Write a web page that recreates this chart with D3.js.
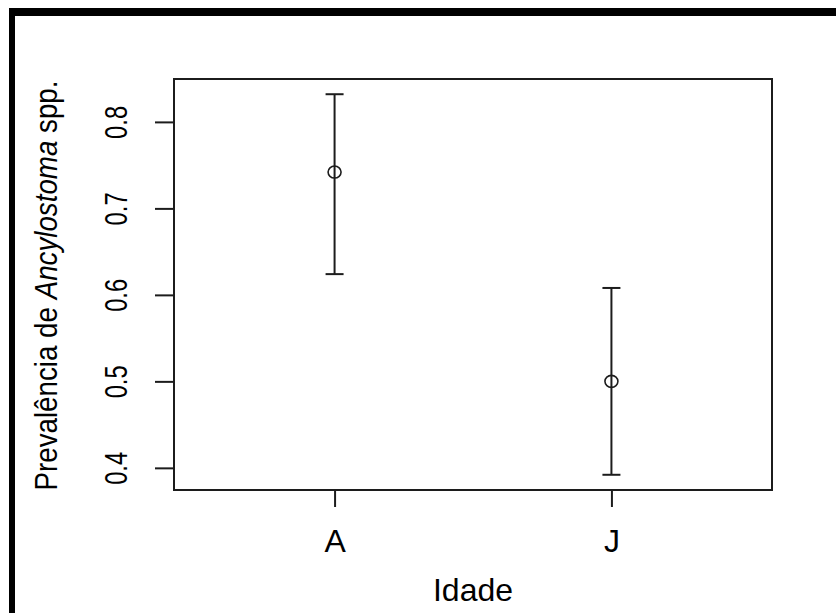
<!DOCTYPE html>
<html>
  <head>
    <meta charset="utf-8">
    <title>prevalencia</title>
    <style>
      body { margin: 0; background: #fff; }
      svg { display: block; }
      text { font-family: "Liberation Sans", Arial, sans-serif; fill: #000; }
    </style>
  </head>
  <body>
    <div id="container"></div>
    <script src="https://cdn.jsdelivr.net/npm/d3@7"></script>
    <script>
      // data
      var groups = ["A", "J"];
      var groupPos = [1, 2];
      var prev = [0.742, 0.500];
      var lower = [0.624, 0.392];
      var upper = [0.832, 0.608];
      var yTicks = [0.4, 0.5, 0.6, 0.7, 0.8];

      var W = 836, H = 613;
      var box = {left: 174, right: 772, top: 79, bottom: 490};

      var svg = d3.select("#container").append("svg")
        .attr("width", W)
        .attr("height", H);

      svg.append("rect").attr("width", W).attr("height", H).attr("fill", "#fff");

      // thick black frame, top and left
      svg.append("rect").attr("x", 9).attr("y", 8).attr("width", W - 9).attr("height", 8).attr("fill", "#000");
      svg.append("rect").attr("x", 9).attr("y", 8).attr("width", 6).attr("height", H - 8).attr("fill", "#000");

      var x = d3.scaleLinear().domain([0.42, 2.58]).range([box.left, box.right]);
      var y = d3.scaleLinear().domain([0.3744, 0.8496]).range([box.bottom, box.top]);

      var ink = "#1c1c1c";

      // y axis
      var gy = svg.append("g")
        .attr("transform", "translate(" + box.left + ",0)")
        .call(d3.axisLeft(y).tickValues(yTicks).tickSize(19).tickFormat(d3.format(".1f")));
      gy.select(".domain").remove();
      gy.selectAll(".tick line").attr("stroke", ink).attr("stroke-width", 2);
      gy.selectAll(".tick text")
        .attr("font-size", 32)
        .attr("x", null).attr("dy", null)
        .attr("text-anchor", "middle")
        .each(function() {
          var t = d3.select(this);
          var len = this.getComputedTextLength();
          t.attr("transform", "translate(" + (127 - box.left) + ",0) rotate(-90) scale(" + (33 / len) + ",1)");
        });

      // x axis
      var gx = svg.append("g")
        .attr("transform", "translate(0," + box.bottom + ")")
        .call(d3.axisBottom(x).tickValues(groupPos).tickSize(17).tickFormat(function(d, i) { return groups[i]; }));
      gx.select(".domain").remove();
      gx.selectAll(".tick line").attr("stroke", ink).attr("stroke-width", 2);
      gx.selectAll(".tick text").attr("font-size", 32).attr("y", 62).attr("dy", null);

      // plot box
      svg.append("rect")
        .attr("x", box.left).attr("y", box.top)
        .attr("width", box.right - box.left).attr("height", box.bottom - box.top)
        .attr("fill", "none").attr("stroke", ink).attr("stroke-width", 2);

      // error bars
      var bars = svg.append("g").selectAll("g").data(groupPos).enter().append("g");
      bars.append("line")
        .attr("x1", function(d) { return x(d); }).attr("x2", function(d) { return x(d); })
        .attr("y1", function(d, i) { return y(lower[i]); })
        .attr("y2", function(d, i) { return y(upper[i]); })
        .attr("stroke", ink).attr("stroke-width", 2);
      bars.append("line")
        .attr("x1", function(d) { return x(d) - 9; }).attr("x2", function(d) { return x(d) + 9; })
        .attr("y1", function(d, i) { return y(upper[i]); })
        .attr("y2", function(d, i) { return y(upper[i]); })
        .attr("stroke", ink).attr("stroke-width", 2);
      bars.append("line")
        .attr("x1", function(d) { return x(d) - 9; }).attr("x2", function(d) { return x(d) + 9; })
        .attr("y1", function(d, i) { return y(lower[i]); })
        .attr("y2", function(d, i) { return y(lower[i]); })
        .attr("stroke", ink).attr("stroke-width", 2);
      bars.append("ellipse")
        .attr("cx", function(d) { return x(d); })
        .attr("cy", function(d, i) { return y(prev[i]); })
        .attr("rx", 6.5).attr("ry", 6)
        .attr("fill", "none").attr("stroke", ink).attr("stroke-width", 1.6);

      // axis titles
      svg.append("text")
        .attr("x", (box.left + box.right) / 2)
        .attr("y", 601)
        .attr("text-anchor", "middle")
        .attr("font-size", 32)
        .text("Idade");

      var yt = svg.append("text")
        .attr("text-anchor", "middle")
        .attr("font-size", 32);
      yt.append("tspan").text("Prevalência de ");
      yt.append("tspan").attr("font-style", "italic").text("Ancylostoma");
      yt.append("tspan").text(" spp.");
      var ylen = yt.node().getComputedTextLength();
      yt.attr("transform", "translate(57," + ((box.top + box.bottom) / 2 + 1) + ") rotate(-90) scale(" + (410 / ylen) + ",1)");
    </script>
  </body>
</html>
